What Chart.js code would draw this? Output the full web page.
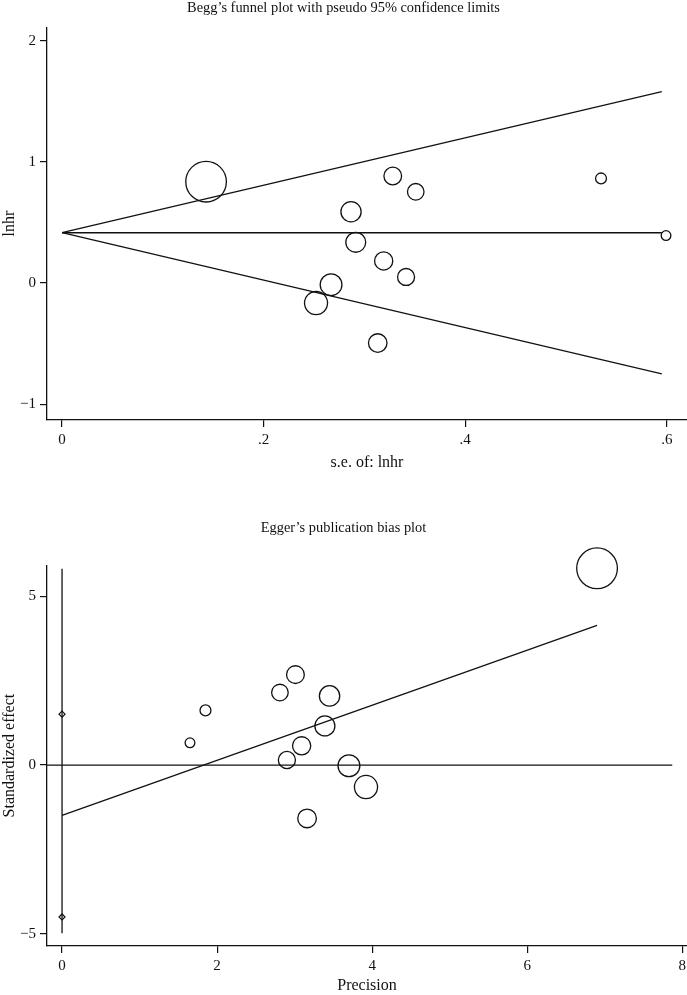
<!DOCTYPE html>
<html>
<head>
<meta charset="utf-8">
<script src="https://cdn.jsdelivr.net/npm/chart.js@4.4.0/dist/chart.umd.min.js"></script>
<style>
  html, body { margin: 0; padding: 0; background: #fff; }
  #wrap { position: relative; width: 687px; height: 995px; }
  .box { position: absolute; left: 0; width: 687px; }
</style>
</head>
<body>
<div id="wrap">
  <div class="box" style="top:0;height:497px"><canvas id="begg" width="687" height="497"></canvas></div>
  <div class="box" style="top:497px;height:498px"><canvas id="egger" width="687" height="498"></canvas></div>
</div>
<script>
// Begg's funnel plot: standard error vs log hazard ratio
var beggSE = [0.1429, 0.3281, 0.3509, 0.2867, 0.2914, 0.3191, 0.3413, 0.2669, 0.2520, 0.3132, 0.5347, 0.5992];
var beggLnHR = [0.836, 0.883, 0.753, 0.588, 0.336, 0.182, 0.050, -0.014, -0.165, -0.495, 0.863, 0.392];
var funnelSE = [0, 0.595];
var funnelUpper = [0.415, 1.58];
var funnelLower = [0.415, -0.75];
var funnelPooled = [0.415, 0.415];
var beggXTicks = [0, 0.2, 0.4, 0.6];
var beggYTicks = [-1, 0, 1, 2];

// Egger's plot: precision vs standardized effect
var eggerPrecision = [6.90, 3.01, 2.81, 3.45, 3.39, 3.09, 2.90, 3.70, 3.92, 3.16, 1.85, 1.65];
var eggerEffect = [5.83, 2.68, 2.15, 2.05, 1.16, 0.57, 0.15, -0.02, -0.65, -1.58, 1.62, 0.66];
var regX = [0, 6.90];
var regY = [-1.49, 4.14];
var zeroX = [-0.194, 7.87];
var zeroY = [0, 0];
var ciX = [0, 0];
var ciY = [-4.98, 5.82];
var interceptY = [1.51, -4.50];
var eggerXTicks = [0, 2, 4, 6, 8];
var eggerYTicks = [-5, 0, 5];

var ink = '#111';
var serif = 'Liberation Serif, "DejaVu Serif", serif';

function pts(xs, ys) {
    return xs.map(function (x, i) { return { x: x, y: ys[i] }; });
}

function fmt(v) {
    var s = String(v);
    if (Math.abs(v) < 1 && v !== 0) s = s.replace('0.', '.');
    return s.replace('-', '\u2212');
}

function lineSet(xs, ys) {
    return {
        data: pts(xs, ys),
        showLine: true,
        borderColor: ink,
        borderWidth: 1.3,
        pointRadius: 0,
        fill: false,
        clip: false
    };
}

function axis(ticksArr, min, max, size, titleText, titlePad, horizontal) {
    return {
        type: 'linear',
        min: min,
        max: max,
        afterBuildTicks: function (s) {
            s.ticks = ticksArr.map(function (v) { return { value: v }; });
        },
        afterFit: function (s) {
            if (horizontal) s.height = size; else s.width = size;
            s.paddingLeft = 0;
            s.paddingRight = 0;
            s.paddingTop = 0;
            s.paddingBottom = 0;
        },
        ticks: {
            color: ink,
            font: { family: serif, size: 15 },
            padding: 4,
            maxRotation: 0,
            autoSkip: false,
            callback: function (v) { return fmt(v); }
        },
        grid: {
            display: true,
            drawOnChartArea: false,
            drawTicks: true,
            tickLength: 7,
            color: ink,
            lineWidth: 1.2
        },
        border: { display: true, color: ink, width: 1.3 },
        title: {
            display: true,
            text: titleText,
            color: ink,
            font: { family: serif, size: 16 },
            padding: titlePad
        }
    };
}

Chart.defaults.animation = false;

new Chart(document.getElementById('begg').getContext('2d'), {
    type: 'scatter',
    data: {
        datasets: [
            lineSet(funnelSE, funnelUpper),
            lineSet(funnelSE, funnelLower),
            lineSet(funnelSE, funnelPooled),
            {
                data: pts(beggSE, beggLnHR),
                pointStyle: 'circle',
                pointRadius: function (c) { return 2.9 / c.raw.x; },
                pointBackgroundColor: 'rgba(0,0,0,0)',
                pointBorderColor: ink,
                pointBorderWidth: 1.3,
                clip: false
            }
        ]
    },
    options: {
        responsive: false,
        devicePixelRatio: 1,
        layout: { padding: 0, autoPadding: false },
        plugins: {
            legend: { display: false },
            tooltip: { enabled: false },
            title: {
                display: true,
                text: 'Begg\u2019s funnel plot with pseudo 95% confidence limits',
                color: ink,
                font: { family: serif, size: 14.4, weight: 'normal' },
                padding: { top: 0, bottom: 10 }
            }
        },
        scales: {
            x: axis(beggXTicks, -0.0149, 0.62, 77, 's.e. of: lnhr', { top: 0, bottom: 25 }, true),
            y: axis(beggYTicks, -1.13, 2.11, 47, 'lnhr', { top: 0, bottom: 0 }, false)
        }
    }
});

new Chart(document.getElementById('egger').getContext('2d'), {
    type: 'scatter',
    data: {
        datasets: [
            lineSet(zeroX, zeroY),
            lineSet(regX, regY),
            lineSet(ciX, ciY),
            {
                data: pts([0, 0], interceptY),
                pointStyle: 'rectRot',
                pointRadius: 3,
                pointBackgroundColor: '#fff',
                pointBorderColor: ink,
                pointBorderWidth: 1.2,
                clip: false
            },
            {
                data: pts(eggerPrecision, eggerEffect),
                pointStyle: 'circle',
                pointRadius: function (c) { return 2.95 * c.raw.x; },
                pointBackgroundColor: 'rgba(0,0,0,0)',
                pointBorderColor: ink,
                pointBorderWidth: 1.3,
                clip: false
            }
        ]
    },
    options: {
        responsive: false,
        devicePixelRatio: 1,
        layout: { padding: 0, autoPadding: false },
        plugins: {
            legend: { display: false },
            tooltip: { enabled: false },
            title: {
                display: true,
                text: 'Egger\u2019s publication bias plot',
                color: ink,
                font: { family: serif, size: 14.4, weight: 'normal' },
                padding: { top: 23, bottom: 28 }
            }
        },
        scales: {
            x: axis(eggerXTicks, -0.194, 8.06, 49, 'Precision', { top: 0, bottom: 0 }, true),
            y: axis(eggerYTicks, -5.36, 5.92, 47, 'Standardized effect', { top: 0, bottom: 0 }, false)
        }
    }
});
</script>
</body>
</html>
